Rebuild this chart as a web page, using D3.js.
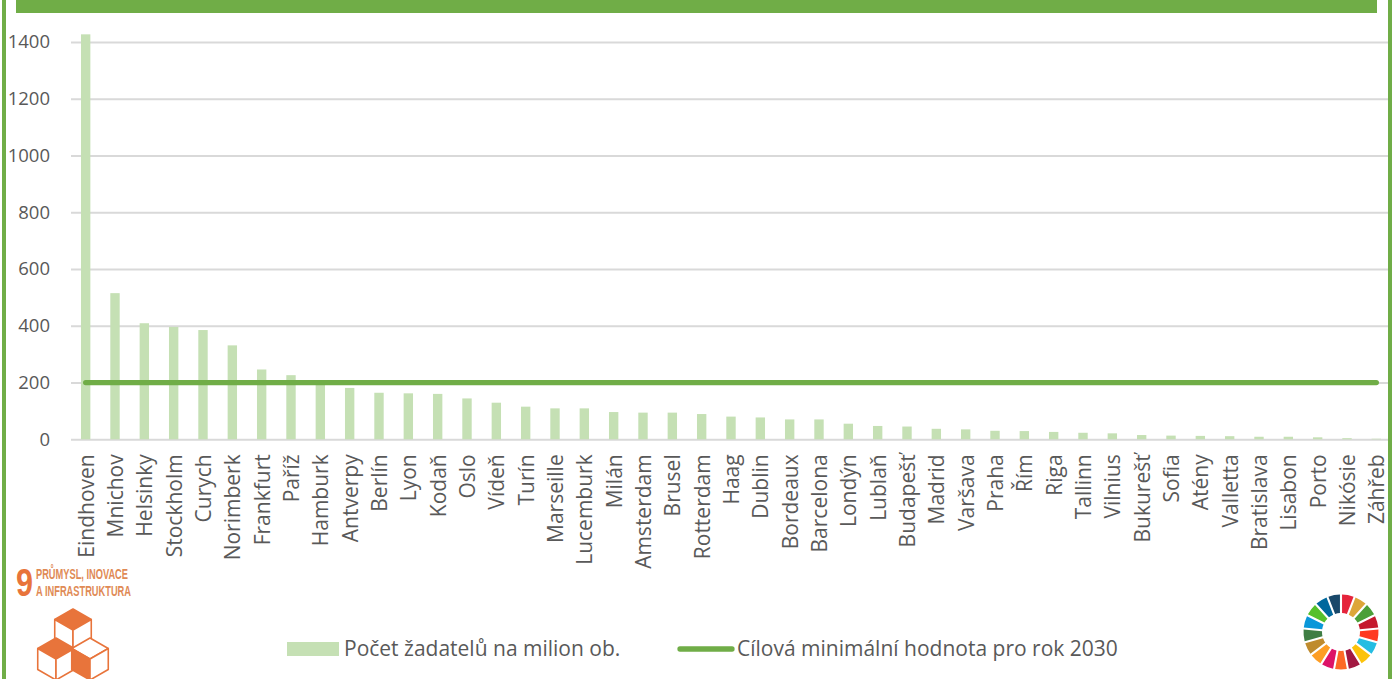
<!DOCTYPE html>
<html>
<head>
<meta charset="utf-8">
<script src="https://cdn.jsdelivr.net/npm/d3@7"></script>
<style>
  html, body { margin: 0; padding: 0; background: #fff; overflow: hidden; }
  svg { display: block; }
  text { font-family: "Open Sans", "Noto Sans", sans-serif; fill: #595959; }
</style>
</head>
<body>
<div id="chart"></div>
<script>
// Data
const cities = ['Eindhoven', 'Mnichov', 'Helsinky', 'Stockholm', 'Curych', 'Norimberk', 'Frankfurt', 'Paříž',
  'Hamburk', 'Antverpy', 'Berlín', 'Lyon', 'Kodaň', 'Oslo', 'Vídeň', 'Turín', 'Marseille', 'Lucemburk', 'Milán',
  'Amsterdam', 'Brusel', 'Rotterdam', 'Haag', 'Dublin', 'Bordeaux', 'Barcelona', 'Londýn', 'Lublaň', 'Budapešť',
  'Madrid', 'Varšava', 'Praha', 'Řím', 'Riga', 'Tallinn', 'Vilnius', 'Bukurešť', 'Sofia', 'Atény', 'Valletta',
  'Bratislava', 'Lisabon', 'Porto', 'Nikósie', 'Záhřeb'];
const applicants = [1427, 515, 409, 396, 385, 331, 246, 226,
  197, 181, 164, 162, 160, 144, 129, 115, 109, 109, 96,
  94, 94, 89, 80, 77, 70, 70, 55, 47, 45,
  37, 35, 30, 29, 26, 23, 21, 15, 13, 12, 11,
  9, 9, 7, 4, 2];
const target2030 = cities.map(() => 200);
const yTicks = [0, 200, 400, 600, 800, 1000, 1200, 1400];
const seriesNames = ['Počet žadatelů na milion ob.', 'Cílová minimální hodnota pro rok 2030'];
const goalTitle = ['PRŮMYSL, INOVACE', 'A INFRASTRUKTURA'];
const wheelColors = ['#e5243b', '#dda63a', '#4c9f38', '#c5192d', '#ff3a21', '#26bde2', '#fcc30b', '#a21942',
  '#fd6925', '#dd1367', '#fd9d24', '#bf8b2e', '#3f7e44', '#0a97d9', '#56c02b', '#00689d', '#19486a'];

const width = 1392, height = 679;
const green = '#70ad47', barGreen = '#c5e0b4', grid = '#d9d9d9', orange = '#e8743b';

const svg = d3.select('#chart').append('svg').attr('width', width).attr('height', height);

const x = d3.scaleBand().domain(cities).range([71, 1391]).paddingInner(0.68).paddingOuter(0.34);
const y = d3.scaleLinear().domain([0, 1400]).range([439.3, 42]);

// gridlines and value labels
const yAxis = svg.append('g').attr('transform', 'translate(71,0)')
  .call(d3.axisLeft(y).tickValues(yTicks).tickSize(-1317).tickPadding(21).tickFormat(d3.format('d')));
yAxis.select('.domain').remove();
yAxis.selectAll('line').attr('stroke', grid).attr('stroke-width', 2);
yAxis.selectAll('text').attr('font-size', 18.5).style('fill', '#595959');

// bars
svg.append('g').selectAll('rect').data(cities).enter().append('rect')
  .attr('x', d => x(d))
  .attr('width', x.bandwidth())
  .attr('y', (d, i) => y(applicants[i]))
  .attr('height', (d, i) => y(0) - y(applicants[i]))
  .attr('fill', barGreen);

// target line
const line = d3.line().x((d, i) => x(cities[i]) + x.bandwidth() / 2).y(d => y(d));
svg.append('path').datum(target2030).attr('d', line)
  .attr('fill', 'none').attr('stroke', green).attr('stroke-width', 5.3).attr('stroke-linecap', 'round');

// category labels
const xAxis = svg.append('g').attr('transform', 'translate(0,439.3)')
  .call(d3.axisBottom(x).tickSize(0).tickPadding(0));
xAxis.select('.domain').remove();
xAxis.selectAll('text')
  .attr('font-size', 21)
  .style('fill', '#595959')
  .attr('text-anchor', 'end')
  .attr('dy', null)
  .attr('y', 0)
  .attr('transform', 'translate(0,15) rotate(-90)')
  .attr('dominant-baseline', 'central');

// frame and banner
svg.append('rect').attr('x', 2).attr('y', 0).attr('width', 4).attr('height', height).attr('fill', green);
svg.append('rect').attr('x', 1388).attr('y', 0).attr('width', 4).attr('height', height).attr('fill', green);
svg.append('rect').attr('x', 16).attr('y', 0).attr('width', 1361).attr('height', 13).attr('fill', green);

// legend
const legend = svg.append('g');
legend.append('rect').attr('x', 287).attr('y', 642).attr('width', 52).attr('height', 14).attr('fill', barGreen);
legend.append('text').attr('x', 344).attr('y', 656).attr('font-size', 21).text(seriesNames[0]);
legend.append('line').attr('x1', 680).attr('x2', 732).attr('y1', 649).attr('y2', 649)
  .attr('stroke', green).attr('stroke-width', 5.3).attr('stroke-linecap', 'round');
legend.append('text').attr('x', 737).attr('y', 656).attr('font-size', 21).text(seriesNames[1]);

// goal 9 badge
const badge = svg.append('g');
badge.append('text').attr('x', 16).attr('y', 596).attr('font-size', 39).attr('font-weight', 700)
  .attr('textLength', 17).attr('lengthAdjust', 'spacingAndGlyphs')
  .style('fill', orange).style('font-family', '"Liberation Sans"').text('9');
goalTitle.forEach((t, i) => {
  badge.append('text').attr('x', 36).attr('y', 579 + i * 17).attr('font-size', 14).attr('font-weight', 700)
    .attr('textLength', i ? 95 : 92).attr('lengthAdjust', 'spacingAndGlyphs')
    .style('fill', '#e08a55').style('font-family', '"Liberation Sans"').text(t);
});

// cube icon
function cube(cx, cy, r, topFill, leftFill, rightFill) {
  const h = r * 0.5, w = r * 0.87;
  const g = badge.append('g').attr('transform', `translate(${cx},${cy})`)
    .attr('stroke', orange).attr('stroke-width', 1.6).attr('stroke-linejoin', 'round');
  g.append('polygon').attr('points', [[0, -r], [w, -h], [0, 0], [-w, -h]].join(' ')).attr('fill', topFill);
  g.append('polygon').attr('points', [[-w, -h], [0, 0], [0, r], [-w, h]].join(' ')).attr('fill', leftFill);
  g.append('polygon').attr('points', [[w, -h], [0, 0], [0, r], [w, h]].join(' ')).attr('fill', rightFill);
}
cube(73, 630, 21, orange, '#fff', '#fff');
cube(56, 659, 21, orange, '#fff', '#fff');
cube(90, 659, 21, '#fff', orange, '#fff');

// SDG wheel
const arc = d3.arc().innerRadius(19).outerRadius(37.5).padAngle(0.05);
const pie = d3.pie().value(1).sort(null).startAngle(0).endAngle(2 * Math.PI);
svg.append('g').attr('transform', 'translate(1341,632)')
  .selectAll('path').data(pie(wheelColors)).enter().append('path')
  .attr('d', arc).attr('fill', d => d.data);
</script>
</body>
</html>
